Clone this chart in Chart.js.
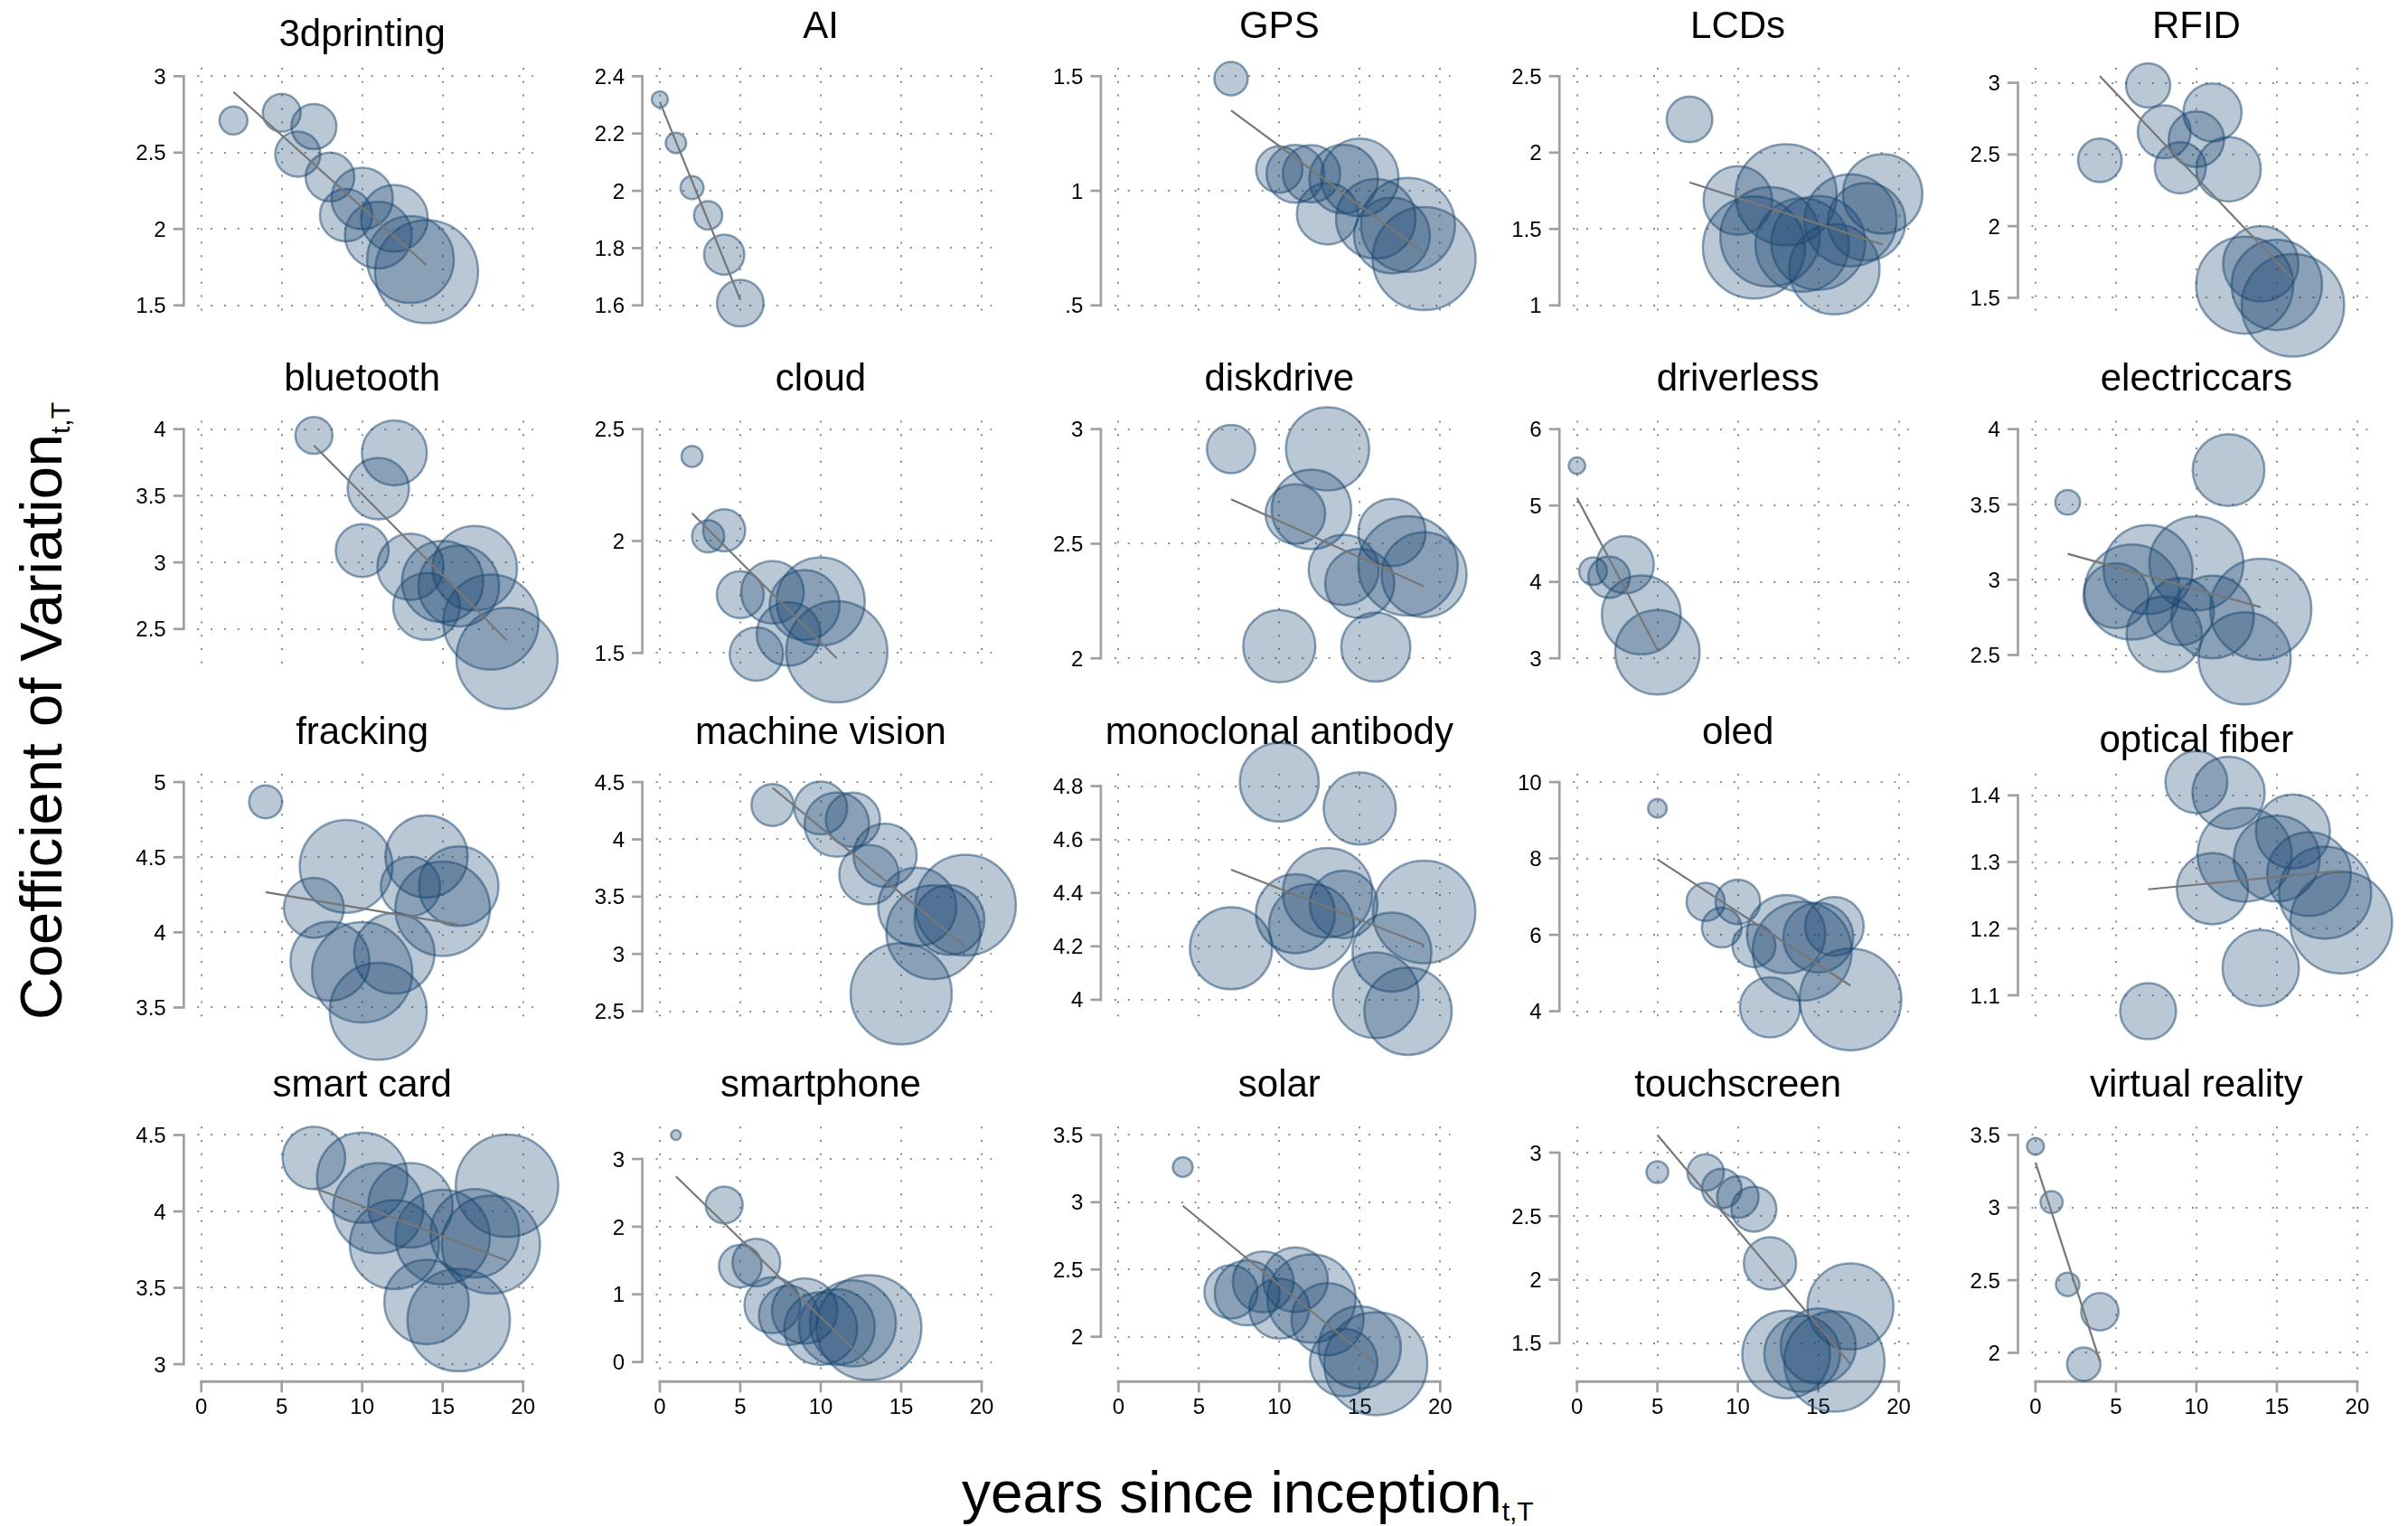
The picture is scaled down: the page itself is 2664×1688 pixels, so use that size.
<!DOCTYPE html>
<html>
<head>
<meta charset="utf-8">
<script src="https://cdn.jsdelivr.net/npm/chart.js@4.4.1/dist/chart.umd.min.js"></script>
<style>
  html, body { margin: 0; padding: 0; background: #fff; }
  #fig { position: relative; width: 2664px; height: 1688px; overflow: hidden; background: #fff; }
  #fig canvas { position: absolute; }
  .axt { position: absolute; font-family: "Liberation Sans", Arial, sans-serif; color: #000; white-space: nowrap; }
  .axt .sub { font-size: 30px; position: relative; top: 9px; }
</style>
</head>
<body>
<div id="fig">
  <div class="axt" id="ytitle" style="left:0;top:0;font-size:65px;line-height:65px;transform:translate(13px,1128px) rotate(-90deg);transform-origin:0 0;">Coefficient of Variation<span class="sub">t,T</span></div>
  <div class="axt" id="xtitle" style="left:1064px;top:1619px;font-size:64px;line-height:64px;">years since inception<span class="sub">t,T</span></div>
</div>
<script>
// Technologies, one small panel each (5 per row)
const TECHS = ['3dprinting', 'AI', 'GPS', 'LCDs', 'RFID',
  'bluetooth', 'cloud', 'diskdrive', 'driverless', 'electriccars',
  'fracking', 'machine vision', 'monoclonal antibody', 'oled', 'optical fiber',
  'smart card', 'smartphone', 'solar', 'touchscreen', 'virtual reality'];

// Years since inception of each observation
const YEARS = [
  [2, 5, 6, 7, 8, 9, 10, 11, 12, 13, 14],
  [0, 1, 2, 3, 4, 5],
  [7, 10, 11, 12, 13, 14, 15, 16, 17, 18, 19],
  [7, 10, 11, 12, 13, 14, 15, 16, 17, 18, 19],
  [4, 7, 8, 9, 10, 11, 12, 13, 14, 15, 16],
  [7, 10, 11, 12, 13, 14, 15, 16, 17, 18, 19],
  [2, 3, 4, 5, 6, 7, 8, 9, 10, 11],
  [7, 10, 11, 12, 13, 14, 15, 16, 17, 18, 19],
  [0, 1, 2, 3, 4, 5],
  [2, 5, 6, 7, 8, 9, 10, 11, 12, 13, 14],
  [4, 7, 8, 9, 10, 11, 12, 13, 14, 15, 16],
  [7, 10, 11, 12, 13, 14, 15, 16, 17, 18, 19],
  [7, 10, 11, 12, 13, 14, 15, 16, 17, 18, 19],
  [5, 8, 9, 10, 11, 12, 13, 14, 15, 16, 17],
  [7, 10, 11, 12, 13, 14, 15, 16, 17, 18, 19],
  [7, 10, 11, 12, 13, 14, 15, 16, 17, 18, 19],
  [1, 4, 5, 6, 7, 8, 9, 10, 11, 12, 13],
  [4, 7, 8, 9, 10, 11, 12, 13, 14, 15, 16],
  [5, 8, 9, 10, 11, 12, 13, 14, 15, 16, 17],
  [0, 1, 2, 3, 4]
];

// Coefficient of variation of each observation
const COV = [
  [2.71, 2.76, 2.49, 2.67, 2.34, 2.09, 2.20, 1.96, 2.07, 1.80, 1.72],
  [2.319, 2.167, 2.011, 1.914, 1.777, 1.608],
  [1.489, 1.093, 1.074, 1.074, 0.90, 1.051, 1.058, 0.878, 0.805, 0.851, 0.704],
  [2.218, 1.687, 1.379, 1.448, 1.724, 1.395, 1.409, 1.237, 1.557, 1.547, 1.73],
  [2.459, 2.981, 2.658, 2.407, 2.606, 2.793, 2.397, 1.588, 1.737, 1.59, 1.447],
  [3.953, 3.089, 3.553, 3.822, 2.967, 2.669, 2.856, 2.822, 2.956, 2.552, 2.28],
  [2.378, 2.021, 2.048, 1.761, 1.495, 1.771, 1.585, 1.714, 1.73, 1.505],
  [2.913, 2.053, 2.63, 2.65, 2.914, 2.386, 2.327, 2.049, 2.549, 2.403, 2.365],
  [5.522, 4.142, 4.063, 4.225, 3.569, 3.079],
  [3.514, 2.894, 2.918, 3.068, 2.638, 2.788, 3.108, 2.752, 3.728, 2.478, 2.804],
  [4.868, 4.163, 3.808, 4.439, 3.734, 3.475, 3.86, 4.305, 4.505, 4.157, 4.307],
  [4.30, 4.274, 4.129, 4.171, 3.692, 3.861, 2.653, 3.411, 3.19, 3.297, 3.426],
  [4.193, 4.815, 4.322, 4.274, 4.401, 4.357, 4.716, 4.017, 4.178, 3.957, 4.329],
  [9.312, 6.862, 6.19, 6.862, 5.715, 4.103, 6.016, 5.573, 5.929, 6.221, 4.308],
  [1.076, 1.42, 1.26, 1.404, 1.311, 1.141, 1.305, 1.346, 1.282, 1.254, 1.209],
  [4.35, 4.221, 4.02, 3.783, 4.04, 3.407, 3.832, 3.289, 3.856, 3.783, 4.168],
  [3.355, 2.321, 1.417, 1.47, 0.841, 0.688, 0.755, 0.494, 0.517, 0.571, 0.508],
  [3.262, 2.333, 2.326, 2.408, 2.209, 2.424, 2.284, 2.131, 1.809, 1.92, 1.80],
  [2.847, 2.844, 2.718, 2.651, 2.555, 2.129, 1.411, 1.416, 1.478, 1.356, 1.789],
  [3.422, 3.038, 2.472, 1.922, 2.283]
];

// Bubble weights (marker area is proportional to weight)
const WEIGHT = [
  [240, 441, 625, 625, 729, 841, 1156, 1369, 1369, 2304, 3249],
  [81, 128, 164, 246, 497, 666],
  [342, 660, 1024, 1005, 1156, 1444, 1849, 1936, 1764, 2704, 3249],
  [640, 1444, 3192, 3025, 3136, 2673, 2704, 2500, 2601, 1849, 1936],
  [586, 600, 858, 801, 942, 1037, 1274, 2884, 1739, 2500, 3215],
  [420, 858, 1156, 1296, 1347, 1369, 2025, 1998, 2181, 2777, 3136],
  [137, 317, 543, 676, 870, 1204, 1246, 1498, 2372, 3136],
  [713, 1600, 1089, 1936, 2116, 1505, 1467, 1467, 1391, 3025, 2209],
  [85, 234, 529, 1005, 1910, 2181],
  [188, 1296, 2777, 2430, 1739, 1391, 2704, 2088, 1576, 2601, 3136],
  [335, 1102, 1910, 2632, 3080, 2884, 1980, 1076, 2070, 2735, 1936],
  [543, 858, 1274, 900, 1089, 1225, 3136, 1875, 2704, 1498, 3102],
  [2070, 1910, 1910, 2209, 2450, 1406, 1600, 2256, 1910, 2333, 3215],
  [106, 449, 484, 610, 566, 1109, 1875, 2992, 1498, 1056, 3170],
  [961, 1176, 1560, 1600, 2704, 1789, 2256, 1681, 2144, 2601, 3170],
  [1204, 2500, 2500, 2430, 2181, 2181, 2735, 3215, 2401, 2948, 3215],
  [30, 420, 557, 697, 961, 1076, 1310, 1632, 1764, 2266, 3364],
  [121, 870, 1289, 1136, 1102, 1289, 2381, 1600, 1399, 2070, 3249],
  [146, 408, 480, 529, 620, 841, 2352, 1764, 1731, 3080, 2266],
  [88, 151, 169, 342, 428]
];

// Fitted line end points (first and last year) for each technology
const FIT_X = [
  [2, 14], [0, 5], [7, 19], [7, 19], [4, 16],
  [7, 19], [2, 11], [7, 19], [0, 5], [2, 14],
  [4, 16], [7, 19], [7, 19], [5, 17], [7, 19],
  [7, 19], [1, 13], [4, 16], [5, 17], [0, 4]
];
const FIT_Y = [
  [2.897, 1.763], [2.31, 1.619], [1.351, 0.729], [1.805, 1.399], [3.046, 1.632],
  [3.878, 2.414], [2.124, 1.476], [2.694, 2.313], [5.099, 3.111], [3.172, 2.818],
  [4.267, 4.051], [4.45, 3.063], [4.487, 4.205], [7.976, 4.672], [1.259, 1.287],
  [4.154, 3.678], [2.744, -0.032], [2.974, 1.796], [3.139, 1.335], [3.311, 1.943]
];

// Axis ticks
const Y_TICKS = [
  [1.5, 2, 2.5, 3], [1.6, 1.8, 2, 2.2, 2.4], [0.5, 1, 1.5], [1, 1.5, 2, 2.5], [1.5, 2, 2.5, 3],
  [2.5, 3, 3.5, 4], [1.5, 2, 2.5], [2, 2.5, 3], [3, 4, 5, 6], [2.5, 3, 3.5, 4],
  [3.5, 4, 4.5, 5], [2.5, 3, 3.5, 4, 4.5], [4, 4.2, 4.4, 4.6, 4.8], [4, 6, 8, 10], [1.1, 1.2, 1.3, 1.4],
  [3, 3.5, 4, 4.5], [0, 1, 2, 3], [2, 2.5, 3, 3.5], [1.5, 2, 2.5, 3], [2, 2.5, 3, 3.5]
];
const X_TICKS = [0, 5, 10, 15, 20];

// ---- styling and layout ----
const FONT = '"Liberation Sans", Arial, Helvetica, sans-serif';
const FILL = 'rgba(26,71,111,0.30)';
const EDGE = 'rgba(26,71,111,0.50)';
const FIT_COLOR = '#777777';
const GRID_COLOR = '#8c8c8c';
const AXIS_COLOR = '#a0a0a0';
const GEO = { col0: 222.7, colStep: 507.3, row0: 84.3, rowStep: 390.4,
              xSpan: 356, ySpan: 253.5, padL: 222, padT: 84, cw: 640, ch: 480 };
const TITLE_DROP = { '3dprinting': 9, 'optical fiber': 9.5 };

function fmtTick(v) {
  let s = String(v);
  if (s.startsWith('0.')) s = s.slice(1);
  return s;
}

// Draws gridlines, bracket axes, tick labels and panel titles
const panelDecor = {
  id: 'panelDecor',
  beforeDatasetsDraw(chart, args, opts) {
    const { ctx } = chart;
    const xs = chart.scales.x, ys = chart.scales.y;
    const ticks = opts.ticks;
    ctx.save();

    // dotted grid
    ctx.strokeStyle = GRID_COLOR;
    ctx.lineWidth = 2;
    ctx.setLineDash([2, 12.8]);
    const gTop = ys.top - 9.3, gBot = ys.bottom + 18;
    const gLeft = xs.left - 4.4, gRight = xs.right + 11.3;
    X_TICKS.forEach(v => {
      const px = Math.round(xs.getPixelForValue(v));
      ctx.beginPath(); ctx.moveTo(px, gTop); ctx.lineTo(px, gBot); ctx.stroke();
    });
    ticks.forEach(v => {
      const py = Math.round(ys.getPixelForValue(v));
      ctx.beginPath(); ctx.moveTo(gLeft, py); ctx.lineTo(gRight, py); ctx.stroke();
    });
    ctx.setLineDash([]);

    // y axis bracket
    const ax = xs.left - 19.4;
    const tMin = Math.min(...ticks), tMax = Math.max(...ticks);
    ctx.strokeStyle = AXIS_COLOR;
    ctx.lineWidth = 2.7;
    ctx.beginPath();
    ctx.moveTo(ax, ys.getPixelForValue(tMax) - 1.35);
    ctx.lineTo(ax, ys.getPixelForValue(tMin) + 1.35);
    ctx.stroke();
    ticks.forEach(v => {
      const py = ys.getPixelForValue(v);
      ctx.beginPath(); ctx.moveTo(ax - 11.5, py); ctx.lineTo(ax, py); ctx.stroke();
    });

    ctx.fillStyle = '#000';
    ctx.font = '24px ' + FONT;
    ctx.textAlign = 'right';
    ctx.textBaseline = 'alphabetic';
    ticks.forEach(v => {
      ctx.fillText(fmtTick(v), ax - 19.6, ys.getPixelForValue(v) + 8.6);
    });

    // x axis on the bottom row
    if (opts.bottom) {
      const ay = ys.bottom + 19.3;
      ctx.lineWidth = 3;
      ctx.strokeStyle = AXIS_COLOR;
      ctx.beginPath();
      ctx.moveTo(xs.getPixelForValue(0) - 1.5, ay);
      ctx.lineTo(xs.getPixelForValue(20) + 1.5, ay);
      ctx.stroke();
      ctx.lineWidth = 2.7;
      X_TICKS.forEach(v => {
        const px = xs.getPixelForValue(v);
        ctx.beginPath(); ctx.moveTo(px, ay); ctx.lineTo(px, ay + 12); ctx.stroke();
      });
      ctx.textAlign = 'center';
      X_TICKS.forEach(v => {
        ctx.fillText(String(v), xs.getPixelForValue(v), ys.bottom + 55);
      });
    }

    // panel title
    ctx.font = '42px ' + FONT;
    ctx.textAlign = 'center';
    ctx.fillText(opts.title, xs.getPixelForValue(10), ys.top - 42.4 + (TITLE_DROP[opts.title] || 0));
    ctx.restore();
  }
};

const fig = document.getElementById('fig');

TECHS.forEach((name, i) => {
  const col = i % 5, row = Math.floor(i / 5);
  const x0 = GEO.col0 + col * GEO.colStep;
  const yT = GEO.row0 + row * GEO.rowStep;
  const left = Math.round(x0 - GEO.padL), top = Math.round(yT - GEO.padT);

  const canvas = document.createElement('canvas');
  canvas.width = GEO.cw; canvas.height = GEO.ch;
  canvas.style.left = left + 'px'; canvas.style.top = top + 'px';
  canvas.style.width = GEO.cw + 'px'; canvas.style.height = GEO.ch + 'px';
  fig.appendChild(canvas);

  const pl = x0 - left, pt = yT - top;
  const ticks = Y_TICKS[i];
  const allY = ticks.concat(COV[i], FIT_Y[i]);
  const lo = Math.min(...allY), hi = Math.max(...allY);

  const bubbles = YEARS[i].map((x, k) => ({ x: x, y: COV[i][k], r: Math.sqrt(WEIGHT[i][k]) }));
  const fit = FIT_X[i].map((x, k) => ({ x: x, y: FIT_Y[i][k] }));

  new Chart(canvas, {
    type: 'bubble',
    data: {
      datasets: [
        { type: 'line', data: fit, borderColor: FIT_COLOR, borderWidth: 2.2,
          pointRadius: 0, tension: 0, fill: false, order: 0, clip: false },
        { type: 'bubble', data: bubbles, backgroundColor: FILL, borderColor: EDGE,
          borderWidth: 2.5, order: 1, clip: false }
      ]
    },
    options: {
      responsive: false,
      animation: false,
      devicePixelRatio: 1,
      events: [],
      layout: { padding: { left: pl, top: pt, right: GEO.cw - pl - GEO.xSpan, bottom: GEO.ch - pt - GEO.ySpan } },
      plugins: {
        legend: { display: false },
        tooltip: { enabled: false },
        title: { display: false },
        panelDecor: { ticks: ticks, title: name, bottom: row === 3 }
      },
      scales: {
        x: { type: 'linear', min: 0, max: 20, display: false },
        y: { type: 'linear', min: lo, max: hi, display: false }
      }
    },
    plugins: [panelDecor]
  });
});
</script>
</body>
</html>
